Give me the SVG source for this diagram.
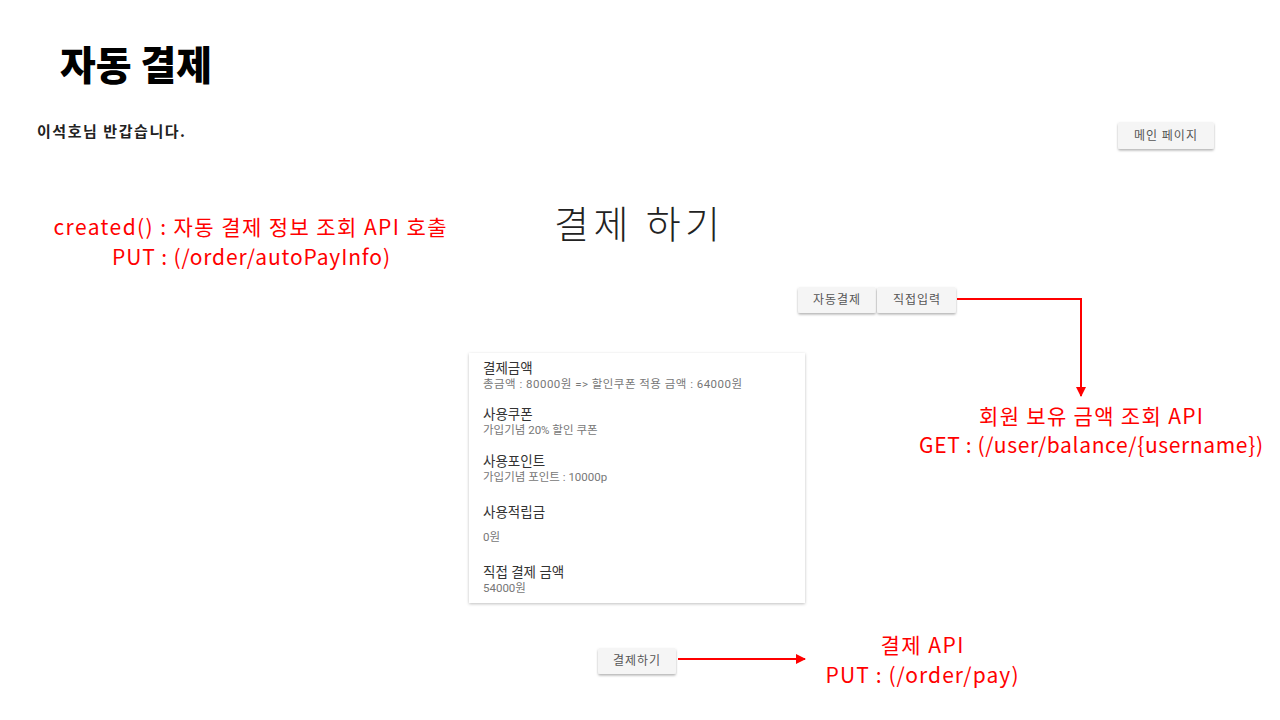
<svg xmlns="http://www.w3.org/2000/svg" width="1280" height="720" viewBox="0 0 1280 720">
<defs>
<filter id="sh" x="-20%" y="-30%" width="140%" height="170%">
<feDropShadow dx="0" dy="1.5" stdDeviation="1.2" flood-color="#000" flood-opacity="0.3"/>
</filter>
<filter id="cs" x="-10%" y="-10%" width="120%" height="120%">
<feDropShadow dx="0" dy="1" stdDeviation="1.5" flood-color="#000" flood-opacity="0.25"/>
</filter>
<marker id="ah" viewBox="0 0 10 10" refX="9" refY="5" markerWidth="5" markerHeight="5" orient="auto">
<path d="M0,0 L10,5 L0,10 z" fill="#ff0000"/>
</marker>
<style>
.k{font-family:"Noto Sans CJK KR","Noto Sans",sans-serif}
.r{font-family:Roboto,"Noto Sans CJK KR",sans-serif}
.btn{fill:#f5f5f5;filter:url(#sh)}
.bt{font-size:12px;fill:#555;text-anchor:middle;letter-spacing:1px}
.red{fill:#ff0000;font-size:21px;text-anchor:middle}
.h{font-size:13.5px;fill:#333}
.s{font-size:11.5px;fill:#777}
.cn{stroke:#ff0000;stroke-width:2;fill:none}
</style>
</defs>
<rect width="1280" height="720" fill="#ffffff"/>
<g id="title">
<text class="k" x="60" y="80" font-size="40" font-weight="900" fill="#000" textLength="152" lengthAdjust="spacingAndGlyphs">자동 결제</text>
</g>
<g id="greeting">
<text class="k" x="37" y="137" font-size="15" font-weight="700" fill="#222" textLength="148">이석호님 반갑습니다.</text>
</g>
<g id="main-btn">
<rect class="btn" x="1118" y="122" width="96" height="27" rx="2"/>
<text class="k bt" x="1166" y="140">메인 페이지</text>
</g>
<g id="created-note">
<text class="k red" x="250" y="235" textLength="393">created() :  자동 결제 정보 조회 API 호출</text>
<text class="k red" x="251" y="265" textLength="278">PUT : (/order/autoPayInfo)</text>
</g>
<g id="heading">
<text class="k" x="637" y="238" font-size="38" font-weight="300" fill="#222" text-anchor="middle" textLength="166">결제 하기</text>
</g>
<g id="auto-btn">
<rect class="btn" x="798" y="287" width="78" height="26" rx="2"/>
<text class="k bt" x="837" y="304">자동결제</text>
</g>
<g id="direct-btn">
<rect class="btn" x="877" y="287" width="79" height="26" rx="2"/>
<text class="k bt" x="917" y="304">직접입력</text>
</g>
<g id="balance-note">
<text class="k red" x="1091" y="424" textLength="224">회원 보유 금액 조회 API</text>
<text class="k red" x="1091" y="453" textLength="344">GET : (/user/balance/{username})</text>
</g>
<g id="card">
<rect x="469" y="353" width="336" height="250" fill="#fff" filter="url(#cs)"/>
<text class="r h" x="483" y="373">결제금액</text>
<text class="r s" x="483" y="388" textLength="259">총금액 : 80000원 =&gt; 할인쿠폰 적용 금액 : 64000원</text>
<text class="r h" x="483" y="419">사용쿠폰</text>
<text class="r s" x="483" y="434">가입기념 20% 할인 쿠폰</text>
<text class="r h" x="483" y="466">사용포인트</text>
<text class="r s" x="483" y="481">가입기념 포인트 : 10000p</text>
<text class="r h" x="483" y="517">사용적립금</text>
<text class="r s" x="483" y="541">0원</text>
<text class="r h" x="483" y="577">직접 결제 금액</text>
<text class="r s" x="483" y="592">54000원</text>
</g>
<g id="pay-btn">
<rect class="btn" x="598" y="648" width="78" height="26" rx="2"/>
<text class="k bt" x="637" y="665">결제하기</text>
</g>
<g id="pay-note">
<text class="k red" x="922" y="653" textLength="83">결제 API</text>
<text class="k red" x="922" y="683" textLength="193">PUT : (/order/pay)</text>
</g>
<g id="connectors">
<path class="cn" d="M957,299 H1081 V396" marker-end="url(#ah)"/>
<path class="cn" d="M678,659 H805" marker-end="url(#ah)"/>
</g>
</svg>
